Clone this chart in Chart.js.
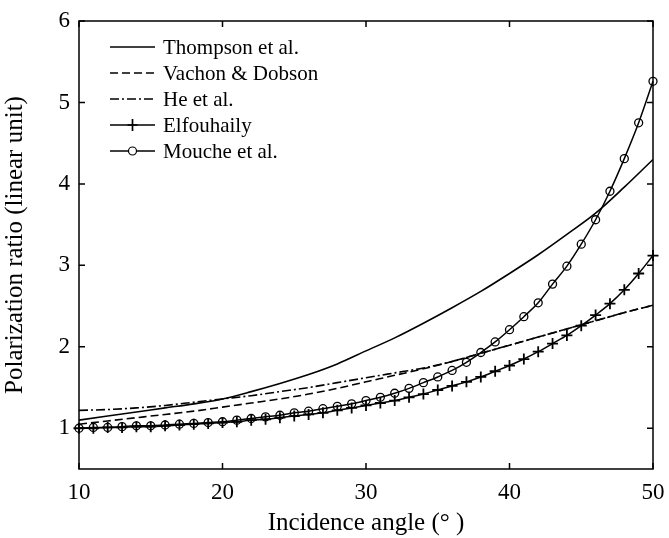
<!DOCTYPE html>
<html>
<head>
<meta charset="utf-8">
<script src="https://cdn.jsdelivr.net/npm/chart.js@4/dist/chart.umd.min.js"></script>
<style>
html,body{margin:0;padding:0;background:#fff;}
canvas{display:block;}
</style>
</head>
<body>
<canvas id="c" width="669" height="538"></canvas>
<script>
// ---- data ----
const anglesLine = [10,12,14,16,18,20,22,24,26,28,30,32,34,36,38,40,42,44,46,48,50];
const thompson   = [1.10,1.15,1.20,1.25,1.30,1.36,1.45,1.55,1.66,1.79,1.95,2.11,2.29,2.48,2.68,2.90,3.13,3.38,3.64,3.96,4.30];
const vachon     = [1.05,1.09,1.13,1.17,1.21,1.26,1.31,1.36,1.42,1.49,1.57,1.65,1.73,1.82,1.92,2.02,2.12,2.22,2.32,2.42,2.51];
const heEtAl     = [1.22,1.23,1.25,1.28,1.32,1.36,1.40,1.45,1.50,1.56,1.62,1.68,1.74,1.82,1.92,2.02,2.12,2.22,2.32,2.42,2.51];
const anglesMark = [10,11,12,13,14,15,16,17,18,19,20,21,22,23,24,25,26,27,28,29,30,31,32,33,34,35,36,37,38,39,40,41,42,43,44,45,46,47,48,49,50];
const elfouhaily = [1.00,1.00,1.01,1.01,1.02,1.02,1.03,1.04,1.05,1.06,1.07,1.08,1.10,1.11,1.13,1.15,1.17,1.19,1.22,1.25,1.28,1.31,1.34,1.38,1.42,1.47,1.52,1.57,1.63,1.70,1.77,1.85,1.94,2.04,2.14,2.26,2.39,2.53,2.70,2.90,3.12];
const mouche     = [1.00,1.01,1.01,1.02,1.03,1.03,1.04,1.05,1.06,1.07,1.08,1.10,1.12,1.14,1.16,1.19,1.21,1.24,1.27,1.30,1.34,1.38,1.43,1.49,1.56,1.63,1.71,1.81,1.93,2.06,2.21,2.37,2.54,2.77,2.99,3.26,3.56,3.91,4.31,4.75,5.26];
const seriesNames = ["Thompson et al.","Vachon & Dobson","He et al.","Elfouhaily","Mouche et al."];
const xTicks = [10,20,30,40,50];
const yTicks = [1,2,3,4,5,6];
const xTitle = "Incidence angle (° )";
const yTitle = "Polarization ratio (linear unit)";

const pts = (xs, ys) => xs.map((x,i)=>({x:x,y:ys[i]}));
const SERIF = "'Liberation Serif','Times New Roman',serif";

const dashes = [[], [8,4], [9,3,2,3], [], []];

const frame = {
  id:'frame',
  afterDatasetsDraw(chart){
    const {ctx, chartArea:a, scales:{x,y}} = chart;
    ctx.save();
    ctx.strokeStyle='#000';
    ctx.lineWidth=1.5;
    ctx.setLineDash([]);
    ctx.strokeRect(a.left, a.top, a.right-a.left, a.bottom-a.top);
    const L=6;
    ctx.beginPath();
    xTicks.forEach(v=>{const px=x.getPixelForValue(v);
      ctx.moveTo(px,a.bottom);ctx.lineTo(px,a.bottom-L);
      ctx.moveTo(px,a.top);ctx.lineTo(px,a.top+L);});
    yTicks.forEach(v=>{const py=y.getPixelForValue(v);
      ctx.moveTo(a.left,py);ctx.lineTo(a.left+L,py);
      ctx.moveTo(a.right,py);ctx.lineTo(a.right-L,py);});
    ctx.stroke();
    ctx.restore();
  },
  afterDraw(chart){
    const ctx = chart.ctx;
    ctx.save();
    ctx.font = "21px " + SERIF;
    ctx.fillStyle='#000';
    ctx.textBaseline='middle';
    const x0=110, x1=155, tx=163, y0=47, dy=26;
    chart.data.datasets.forEach((ds,i)=>{
      const yy = y0 + i*dy;
      ctx.strokeStyle='#000';
      ctx.lineWidth=1.5;
      ctx.setLineDash(dashes[i]);
      ctx.beginPath(); ctx.moveTo(x0,yy); ctx.lineTo(x1,yy); ctx.stroke();
      ctx.setLineDash([]);
      const mx=(x0+x1)/2;
      if(i===3){ ctx.lineWidth=1.7; ctx.beginPath(); ctx.moveTo(mx,yy-6); ctx.lineTo(mx,yy+6); ctx.moveTo(mx-5,yy); ctx.lineTo(mx+5,yy); ctx.stroke(); }
      if(i===4){ ctx.lineWidth=1.2; ctx.beginPath(); ctx.arc(mx,yy,4,0,Math.PI*2); ctx.fillStyle='#fff'; ctx.fill(); ctx.stroke(); ctx.fillStyle='#000'; }
      ctx.fillText(ds.label, tx, yy+1);
    });
    ctx.restore();
  }
};

const lineDs = (label, ys, dash) => ({
  label, data: pts(anglesLine, ys), borderColor:'#000', borderWidth:1.6,
  borderDash: dash, pointRadius:0, cubicInterpolationMode:'monotone', fill:false
});

new Chart(document.getElementById('c'), {
  type:'line',
  data:{ datasets:[
    lineDs(seriesNames[0], thompson, dashes[0]),
    lineDs(seriesNames[1], vachon, dashes[1]),
    lineDs(seriesNames[2], heEtAl, dashes[2]),
    { label:seriesNames[3], data:pts(anglesMark, elfouhaily), borderColor:'#000', borderWidth:1.5,
      pointStyle:'cross', pointRadius:5.5, pointBorderWidth:1.8, pointBorderColor:'#000',
      cubicInterpolationMode:'monotone', fill:false, clip:false },
    { label:seriesNames[4], data:pts(anglesMark, mouche), borderColor:'#000', borderWidth:1.5,
      pointStyle:'circle', pointRadius:4, pointBorderWidth:1.3, pointBorderColor:'#000',
      pointBackgroundColor:'rgba(0,0,0,0)',
      cubicInterpolationMode:'monotone', fill:false, clip:false }
  ]},
  options:{
    responsive:false, animation:false, devicePixelRatio:1,
    layout:{ padding:{top:21,right:16,left:0,bottom:0} },
    plugins:{ legend:{display:false}, tooltip:{enabled:false} },
    scales:{
      x:{ type:'linear', min:10, max:50,
        afterFit(s){ s.height = 69; s.paddingRight = 0; s.paddingLeft = 0; },
        afterBuildTicks(s){ s.ticks = xTicks.map(v=>({value:v})); },
        grid:{display:false, drawTicks:false}, border:{display:false},
        ticks:{ color:'#000', padding:10, maxRotation:0, font:{family:SERIF, size:23} },
        title:{ display:true, text:xTitle, color:'#000', font:{family:SERIF, size:25}, padding:{top:0,bottom:0} }
      },
      y:{ type:'linear', min:0.5, max:6,
        afterFit(s){ s.width = 79; s.paddingTop = 0; s.paddingBottom = 0; },
        afterBuildTicks(s){ s.ticks = yTicks.map(v=>({value:v})); },
        grid:{display:false, drawTicks:false}, border:{display:false},
        ticks:{ color:'#000', padding:9, font:{family:SERIF, size:23} },
        title:{ display:true, text:yTitle, color:'#000', font:{family:SERIF, size:25}, padding:{top:0,bottom:0} }
      }
    }
  },
  plugins:[frame]
});
</script>
</body>
</html>
